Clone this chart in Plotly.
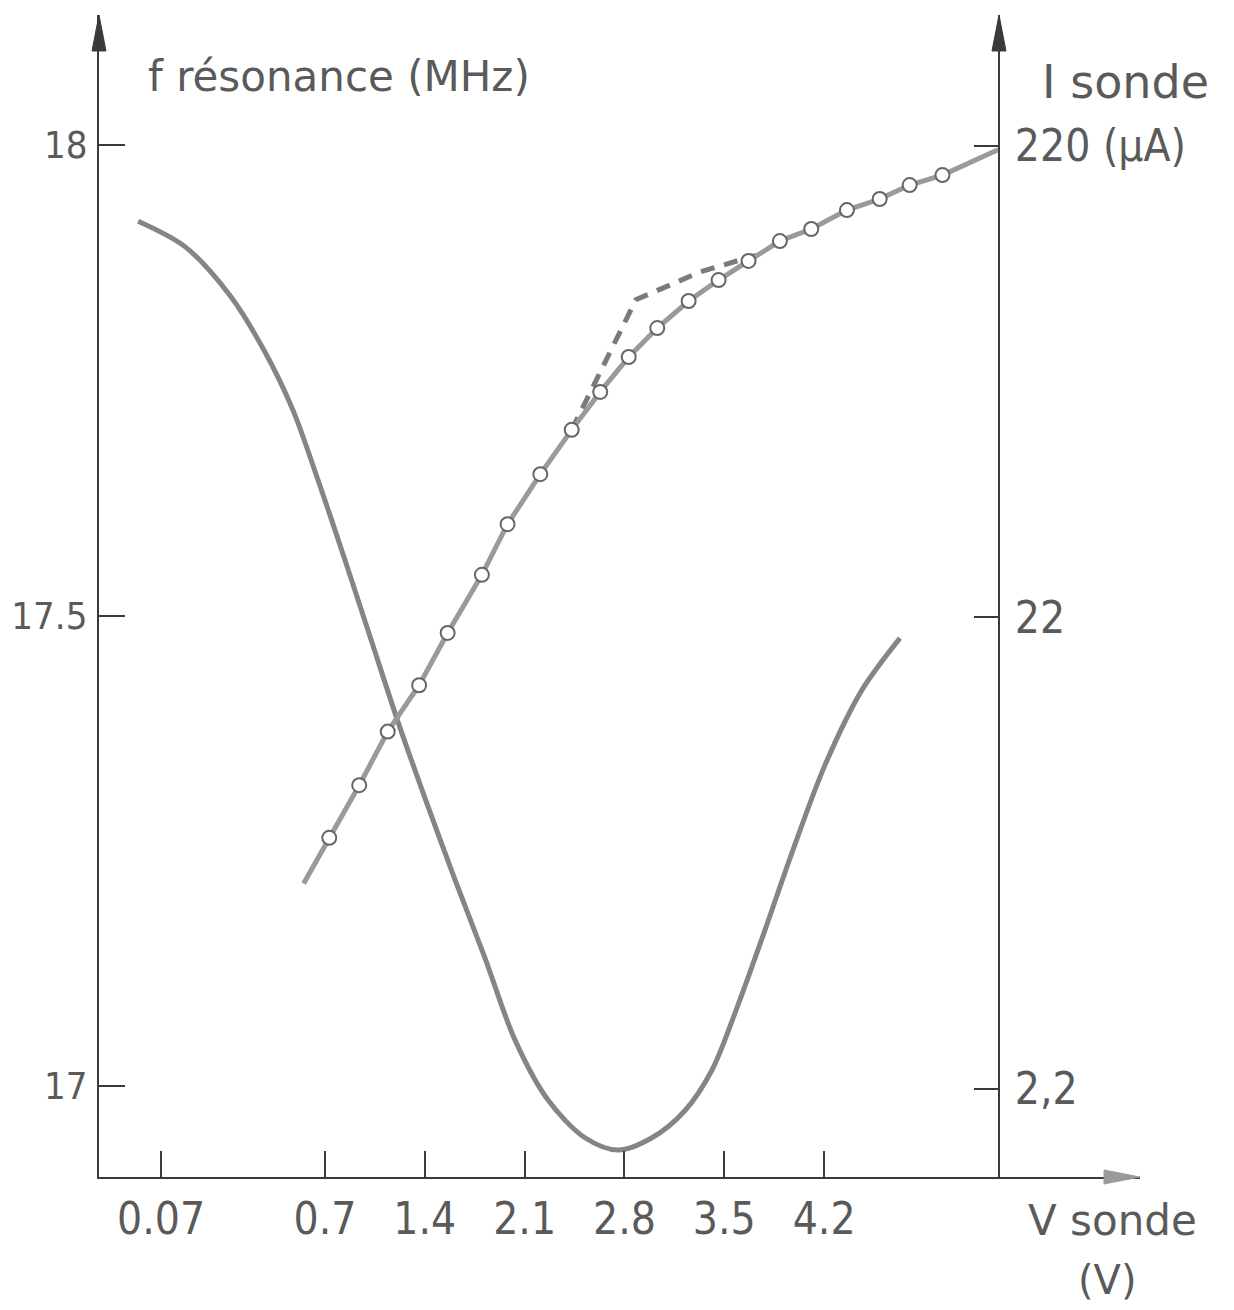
import plotly.graph_objects as go

# ---- data ----
# resonance frequency curve (left axis, MHz) vs probe voltage (V)
f_v = [-0.611, -0.282, 0.034, 0.279, 0.476, 0.651, 0.840, 1.030, 1.212, 1.401, 1.612,
       1.822, 2.032, 2.264, 2.523, 2.755, 2.993, 3.225, 3.414, 3.596, 3.786, 3.975,
       4.206, 4.466, 4.732]
f_mhz = [17.919, 17.892, 17.840, 17.780, 17.718, 17.644, 17.559, 17.471, 17.387, 17.306,
         17.219, 17.136, 17.049, 16.985, 16.945, 16.932, 16.945, 16.974, 17.017, 17.086,
         17.166, 17.248, 17.341, 17.421, 17.476]

# probe current (right axis, log scale, µA) — measured points
i_v = [0.55, 0.73, 0.94, 1.14, 1.36, 1.56, 1.80, 1.98, 2.21, 2.43, 2.63, 2.83, 3.03,
       3.25, 3.46, 3.67, 3.89, 4.11, 4.36, 4.59, 4.80, 5.03, 5.42]
i_ua = [6.0, 7.5, 9.7, 12.6, 15.8, 20.4, 27.1, 34.7, 44.3, 55.0, 66.2, 78.5, 90.4,
        103.2, 114.3, 125.5, 138.3, 146.7, 160.9, 169.8, 181.8, 190.9, 216.0]
i_marker = [False] + [True] * 21 + [False]

# dashed branch of the current curve
d_v = [2.43, 2.88, 3.33, 3.72]
d_ua = [55.0, 103.8, 118.9, 129.0]

# tick labels
x_tick_labels = ["0.07", "0.7", "1.4", "2.1", "2.8", "3.5", "4.2"]
x_tick_vals = [-0.45, 0.7, 1.4, 2.1, 2.8, 3.5, 4.2]
f_ticks = [17, 17.5, 18]
f_tick_labels = ["17", "17.5", "18"]
i_ticks = [2.2, 22, 220]
i_tick_labels = ["2,2", "22", "220 (µA)"]

# ---- styling ----
CURVE = "#858585"
AXIS = "#3a3a3a"
TEXT = "#5a5a5a"
NUM_FONT = "DejaVu Sans Condensed, DejaVu Sans"
LBL_FONT = "DejaVu Sans"

OFF = 8                      # default page margin of the html body
SW, SH = 1234, 1310          # screenshot size
W, H = SW - OFF, SH - OFF    # figure size
# plot area in screenshot pixels
PX0, PX1, PY0, PY1 = 99, 1140, 15, 1177
L, T = PX0 - OFF, PY0 - OFF
R, B = W - (PX1 - OFF), H - (PY1 - OFF)
PW, PH = PX1 - PX0, PY1 - PY0
RIGHT_PX = 999
RIGHT_POS = (RIGHT_PX - PX0) / PW

fig = go.Figure()

fig.add_trace(go.Scatter(
    x=f_v, y=f_mhz, mode="lines", line=dict(color=CURVE, width=5, shape="spline", smoothing=0.9),
    showlegend=False, hoverinfo="skip"))

fig.add_trace(go.Scatter(
    x=d_v, y=d_ua, yaxis="y2", mode="lines",
    line=dict(color="#7a7a7a", width=5, dash="14px,10px"),
    showlegend=False, hoverinfo="skip"))

fig.add_trace(go.Scatter(
    x=i_v, y=i_ua, yaxis="y2", mode="lines",
    line=dict(color="#9a9a9a", width=5),
    showlegend=False, hoverinfo="skip"))

fig.add_trace(go.Scatter(
    x=[v for v, m in zip(i_v, i_marker) if m],
    y=[u for u, m in zip(i_ua, i_marker) if m],
    yaxis="y2", mode="markers",
    marker=dict(symbol="circle", size=14, color="white", line=dict(color="#666666", width=2)),
    showlegend=False, hoverinfo="skip"))

x_lo = 0.7 + (PX0 - 325) / 142.6
x_hi = 0.7 + (PX1 - 325) / 142.6
yl_lo = 18 - (PY1 - 145) / 941
yl_hi = 18 + (145 - PY0) / 941
yr_lo = 2.3424 - (PY1 - 146) / 471.5
yr_hi = 2.3424 + (146 - PY0) / 471.5

fig.update_layout(
    width=W, height=H,
    margin=dict(l=L, r=R, t=T, b=B, autoexpand=False),
    paper_bgcolor="white", plot_bgcolor="white",
    xaxis=dict(range=[x_lo, x_hi], tickvals=x_tick_vals, ticktext=x_tick_labels,
               automargin=False,
               showgrid=False, zeroline=False, showline=True, linecolor=AXIS, linewidth=2,
               ticks="inside", ticklen=26, tickwidth=2, tickcolor=AXIS,
               ticklabelstandoff=2,
               tickfont=dict(family=NUM_FONT, size=44, color=TEXT)),
    yaxis=dict(range=[yl_lo, yl_hi], tickvals=f_ticks, ticktext=f_tick_labels,
               automargin=False,
               showgrid=False, zeroline=False, showline=True, linecolor=AXIS, linewidth=2,
               ticks="inside", ticklen=26, tickwidth=2, tickcolor=AXIS,
               ticklabelstandoff=2,
               tickfont=dict(family=NUM_FONT, size=38, color=TEXT)),
    yaxis2=dict(type="log", range=[yr_lo, yr_hi], tickvals=i_ticks, ticktext=i_tick_labels,
                automargin=False,
                overlaying="y", side="right", anchor="free", position=RIGHT_POS,
                showgrid=False, zeroline=False, showline=True, linecolor=AXIS, linewidth=2,
                ticks="inside", ticklen=24, tickwidth=2, tickcolor=AXIS,
                ticklabelstandoff=6,
                tickfont=dict(family=NUM_FONT, size=44, color=TEXT)),
)

def px_x(p):
    return (p - PX0) / PW

def px_y(p):
    return 1 - (p - PY0) / PH

annos = [
    dict(text="f résonance (MHz)", x=px_x(146), y=px_y(77), xanchor="left", yanchor="middle",
         font=dict(family=LBL_FONT, size=42, color=TEXT)),
    dict(text="I sonde", x=px_x(1040), y=px_y(82), xanchor="left", yanchor="middle",
         font=dict(family=LBL_FONT, size=46, color=TEXT)),
    dict(text="V sonde", x=px_x(1112), y=px_y(1220), xanchor="center", yanchor="middle",
         font=dict(family=LBL_FONT, size=42, color=TEXT)),
    dict(text="(V)", x=px_x(1107), y=px_y(1280), xanchor="center", yanchor="middle",
         font=dict(family=LBL_FONT, size=40, color=TEXT)),
]
for a in annos:
    a.update(xref="paper", yref="paper", showarrow=False)
fig.update_layout(annotations=annos)

# arrow heads at the ends of the axes
hw = 7
alen = 36
shapes = []
for ax_px in (PX0, RIGHT_PX):
    x0 = px_x(ax_px)
    dx = hw / PW
    y_tip = px_y(PY0)
    y_base = px_y(PY0 + alen)
    shapes.append(dict(type="path", xref="paper", yref="paper",
                       path=f"M {x0} {y_tip} L {x0 - dx} {y_base} L {x0 + dx} {y_base} Z",
                       fillcolor=AXIS, line=dict(color=AXIS, width=1)))
x_tip = 1.0
x_base = px_x(PX1 - alen)
dy = hw / PH
shapes.append(dict(type="path", xref="paper", yref="paper",
                   path=f"M {x_tip} 0 L {x_base} {dy} L {x_base} {-dy} Z",
                   fillcolor="#9a9a9a", line=dict(color="#9a9a9a", width=1)))
fig.update_layout(shapes=shapes)

fig.write_html("out.html")
